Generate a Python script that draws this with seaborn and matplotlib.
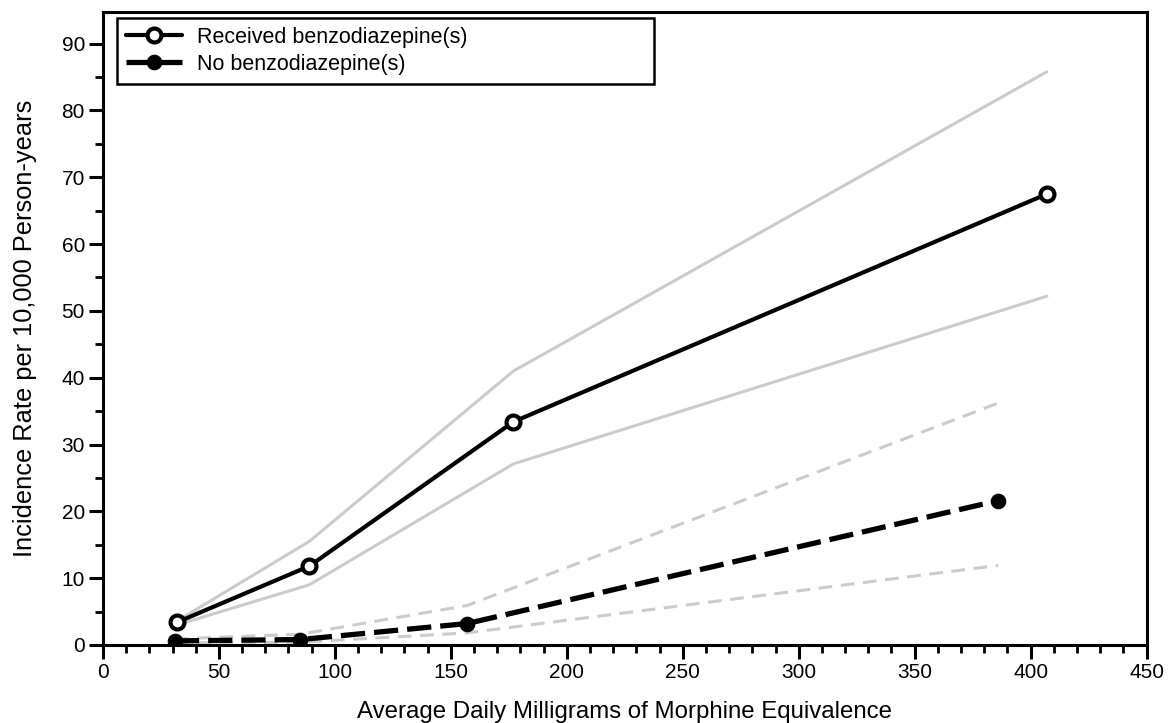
import matplotlib
matplotlib.use("Agg")
import matplotlib.pyplot as plt
from matplotlib.ticker import MultipleLocator
import seaborn as sns

# Received benzodiazepine(s): point estimates and 95% CI bounds
benzo_mme = [32, 89, 177, 407]
benzo_rate = [3.4, 11.8, 33.4, 67.5]
benzo_upper = [3.6, 15.5, 41.0, 85.8]
benzo_lower = [3.0, 9.0, 27.1, 52.2]

# No benzodiazepine(s): point estimates and 95% CI bounds
nobenzo_mme = [31, 85, 157, 386]
nobenzo_rate = [0.6, 0.8, 3.2, 21.6]
nobenzo_upper = [0.9, 1.6, 5.9, 36.2]
nobenzo_lower = [0.3, 0.4, 1.8, 11.9]

labels = ["Received benzodiazepine(s)", "No benzodiazepine(s)"]
x_label = "Average Daily Milligrams of Morphine Equivalence"
y_label = "Incidence Rate per 10,000 Person-years"

sns.set_style("ticks")
plt.rcParams["font.family"] = ["Liberation Sans", "DejaVu Sans"]
plt.rcParams["axes.linewidth"] = 2.2
plt.rcParams["text.color"] = "black"
plt.rcParams["axes.labelcolor"] = "black"
plt.rcParams["xtick.color"] = "black"
plt.rcParams["ytick.color"] = "black"

fig = plt.figure(figsize=(11.7, 7.23), dpi=100)
ax = fig.add_axes([0.088, 0.108, 0.892, 0.875])

grey = "#cccccc"
ci_kw = dict(color=grey, linewidth=2.2, legend=False, estimator=None)

# confidence bounds
sns.lineplot(x=benzo_mme, y=benzo_upper, ax=ax, **ci_kw)
sns.lineplot(x=benzo_mme, y=benzo_lower, ax=ax, **ci_kw)
sns.lineplot(x=nobenzo_mme, y=nobenzo_upper, ax=ax,
             linestyle=(0, (4.5, 2.8)), **ci_kw)
sns.lineplot(x=nobenzo_mme, y=nobenzo_lower, ax=ax,
             linestyle=(0, (4.5, 2.8)), **ci_kw)

# point estimates
sns.lineplot(x=benzo_mme, y=benzo_rate, ax=ax, color="black", linewidth=3.0,
             marker="o", markersize=10, markerfacecolor="white",
             markeredgecolor="black", markeredgewidth=3.0,
             label=labels[0], estimator=None)
sns.lineplot(x=nobenzo_mme, y=nobenzo_rate, ax=ax, color="black", linewidth=3.8,
             linestyle=(0, (4.6, 1.7)), marker="o", markersize=10.5,
             markerfacecolor="black", markeredgecolor="black",
             label=labels[1], estimator=None)

ax.set_xlim(0, 450)
ax.set_ylim(0, 94.7)
ax.xaxis.set_major_locator(MultipleLocator(50))
ax.xaxis.set_minor_locator(MultipleLocator(10))
ax.yaxis.set_minor_locator(MultipleLocator(5))
ax.set_yticks(range(0, 91, 10))
ax.tick_params(axis="both", which="major", direction="out", length=10, width=2.2,
               labelsize=15, colors="black", pad=3)
ax.tick_params(axis="both", which="minor", direction="out", length=5.5, width=2.0)

for side in ["top", "right", "left", "bottom"]:
    ax.spines[side].set_visible(True)
    ax.spines[side].set_color("black")

ax.set_xlabel(x_label, fontsize=17.3, labelpad=14)
ax.set_ylabel(y_label, fontsize=18.3, labelpad=18)

leg = ax.legend(loc="upper left", fontsize=15.5, frameon=True, fancybox=False,
                edgecolor="black", borderpad=0.4, handlelength=2.6,
                handletextpad=0.7, labelspacing=0.28,
                bbox_to_anchor=(0.0134, 0.881, 0.515, 0.1095), mode="expand",
                borderaxespad=0.0)
leg.get_frame().set_linewidth(1.8)
leg.get_frame().set_alpha(1)

fig.savefig("out.png", dpi=100)
